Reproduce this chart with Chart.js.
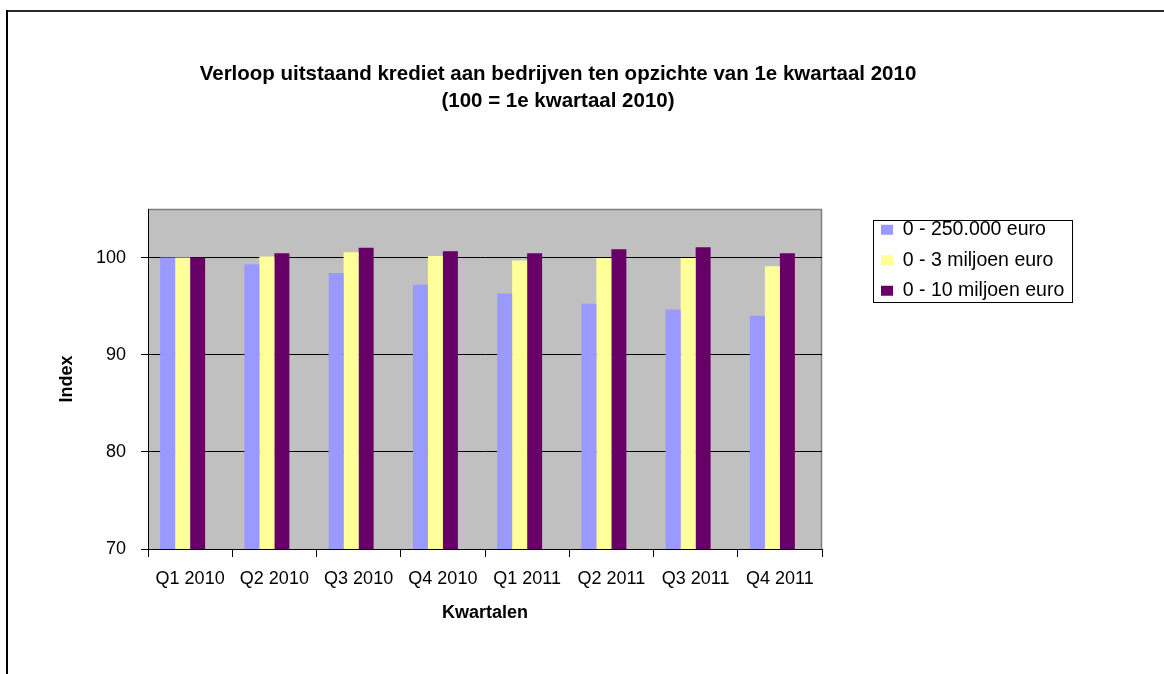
<!DOCTYPE html>
<html>
<head>
<meta charset="utf-8">
<script src="https://cdn.jsdelivr.net/npm/chart.js@4"></script>
<style>
    html, body { margin: 0; padding: 0; background: #ffffff; }
    canvas { display: block; }
</style>
</head>
<body>
<canvas id="kredietChart" width="1164" height="674"></canvas>
<script>
// Verloop uitstaand krediet - grouped bar chart

const quarters = ['Q1 2010', 'Q2 2010', 'Q3 2010', 'Q4 2010', 'Q1 2011', 'Q2 2011', 'Q3 2011', 'Q4 2011'];
const seriesNames = ['0 - 250.000 euro', '0 - 3 miljoen euro', '0 - 10 miljoen euro'];
const tot250k = [100, 99.3, 98.4, 97.2, 96.3, 95.25, 94.65, 94.0];
const tot3mln = [100, 100.1, 100.55, 100.15, 99.7, 99.95, 99.95, 99.1];
const tot10mln = [100, 100.45, 101.0, 100.65, 100.45, 100.85, 101.07, 100.45];
const yTicks = [70, 80, 90, 100];

const titleLines = [
    'Verloop uitstaand krediet aan bedrijven ten opzichte van 1e kwartaal 2010',
    '(100 = 1e kwartaal 2010)'
];

const FONT = "'Liberation Sans', Arial, Helvetica, sans-serif";
const LEGEND_W = 294;
const LEGEND_SHIFT = 48;

Chart.defaults.font.family = FONT;
Chart.defaults.color = '#000000';

// Grey plot area, outer frame and boxed legend, Excel style.
const excelFramePlugin = {
    id: 'excelFrame',
    beforeLayout(chart) {
        const legend = chart.legend;
        if (legend && !legend._fixedWidth) {
            const fit = legend.fit;
            legend.fit = function() {
                fit.call(this);
                this.width = LEGEND_W;
            };
            legend._fixedWidth = true;
        }
    },
    afterLayout(chart) {
        const legend = chart.legend;
        if (!legend) return;
        legend.left += LEGEND_SHIFT;
        legend.right += LEGEND_SHIFT;
    },
    beforeDraw(chart) {
        const ctx = chart.ctx;
        const area = chart.chartArea;
        ctx.save();
        // outer chart frame (runs off the page right and bottom)
        ctx.fillStyle = '#2a2a2a';
        ctx.fillRect(6, 10, chart.width, 2);
        ctx.fillStyle = '#000000';
        ctx.fillRect(6, 10, 2, chart.height);
        // plot area
        ctx.fillStyle = '#c0c0c0';
        ctx.fillRect(area.left, area.top, area.right - area.left, area.bottom - area.top);
        ctx.strokeStyle = '#808080';
        ctx.lineWidth = 1.5;
        ctx.beginPath();
        ctx.moveTo(area.left, area.top + 0.5);
        ctx.lineTo(area.right - 0.5, area.top + 0.5);
        ctx.lineTo(area.right - 0.5, area.bottom);
        ctx.stroke();
        ctx.restore();
    },
    afterDraw(chart) {
        const legend = chart.legend;
        if (!legend) return;
        const ctx = chart.ctx;
        const opts = legend.options.labels;
        ctx.save();
        ctx.font = `${opts.font.size}px ${FONT}`;
        const maxText = Math.max(...seriesNames.map(name => ctx.measureText(name).width));
        const x0 = Math.round(legend.left + 3) + 0.5;
        const x1 = Math.round(legend.left + opts.padding + opts.boxWidth + opts.font.size / 2 + maxText + 8) + 0.5;
        const y0 = Math.round(legend.top + 11) + 0.5;
        const y1 = Math.round(legend.top + 93) + 0.5;
        ctx.strokeStyle = '#000000';
        ctx.lineWidth = 1;
        ctx.strokeRect(x0, y0, x1 - x0, y1 - y0);
        ctx.restore();
    }
};

const ctx = document.getElementById('kredietChart').getContext('2d');

new Chart(ctx, {
    type: 'bar',
    plugins: [excelFramePlugin],
    data: {
        labels: quarters,
        datasets: [
            { label: seriesNames[0], data: tot250k, backgroundColor: '#9999ff', borderWidth: 0 },
            { label: seriesNames[1], data: tot3mln, backgroundColor: '#ffff99', borderWidth: 0 },
            { label: seriesNames[2], data: tot10mln, backgroundColor: '#660066', borderWidth: 0 },
            // empty slot: Excel leaves the bar groups off-centre to the left
            { label: '', data: quarters.map(() => null), backgroundColor: 'rgba(0,0,0,0)', borderWidth: 0 }
        ]
    },
    options: {
        responsive: false,
        animation: false,
        layout: {
            padding: { left: 0, right: 48, top: 0, bottom: 40 }
        },
        datasets: {
            bar: {
                categoryPercentage: 0.712,
                barPercentage: 1.0
            }
        },
        scales: {
            x: {
                grid: {
                    offset: true,
                    drawOnChartArea: false,
                    drawTicks: true,
                    tickLength: 8,
                    color: '#000000'
                },
                border: { color: '#000000', width: 1 },
                ticks: {
                    font: { size: 18 },
                    color: '#000000',
                    padding: 11,
                    maxRotation: 0,
                    autoSkip: false
                },
                title: {
                    display: true,
                    text: 'Kwartalen',
                    font: { size: 18, weight: 'bold' },
                    color: '#000000',
                    padding: { top: 0, bottom: 10 }
                },
                afterFit(scale) {
                    scale.height = 85;
                }
            },
            y: {
                min: 70,
                max: 105,
                grid: {
                    color: '#000000',
                    lineWidth: 1,
                    tickLength: 7
                },
                border: { color: '#000000', width: 1 },
                ticks: {
                    stepSize: 10,
                    includeBounds: false,
                    font: { size: 18 },
                    color: '#000000',
                    padding: 15,
                    callback: value => (yTicks.includes(value) ? value : '')
                },
                title: {
                    display: true,
                    text: 'Index',
                    font: { size: 18, weight: 'bold' },
                    color: '#000000',
                    padding: { top: 56, bottom: 0 }
                },
                afterFit(scale) {
                    scale.width = 148;
                }
            }
        },
        plugins: {
            title: {
                display: true,
                text: titleLines,
                font: { size: 20.5, weight: 'bold', lineHeight: 27 / 20.5 },
                color: '#000000',
                padding: { top: 60.5, bottom: 94.5 }
            },
            legend: {
                position: 'right',
                align: 'start',
                fullSize: false,
                labels: {
                    boxWidth: 12,
                    boxHeight: 10,
                    padding: 11,
                    color: '#000000',
                    font: { size: 19.5 },
                    filter: item => item.datasetIndex < 3
                }
            },
            tooltip: { enabled: false }
        }
    }
});
</script>
</body>
</html>
